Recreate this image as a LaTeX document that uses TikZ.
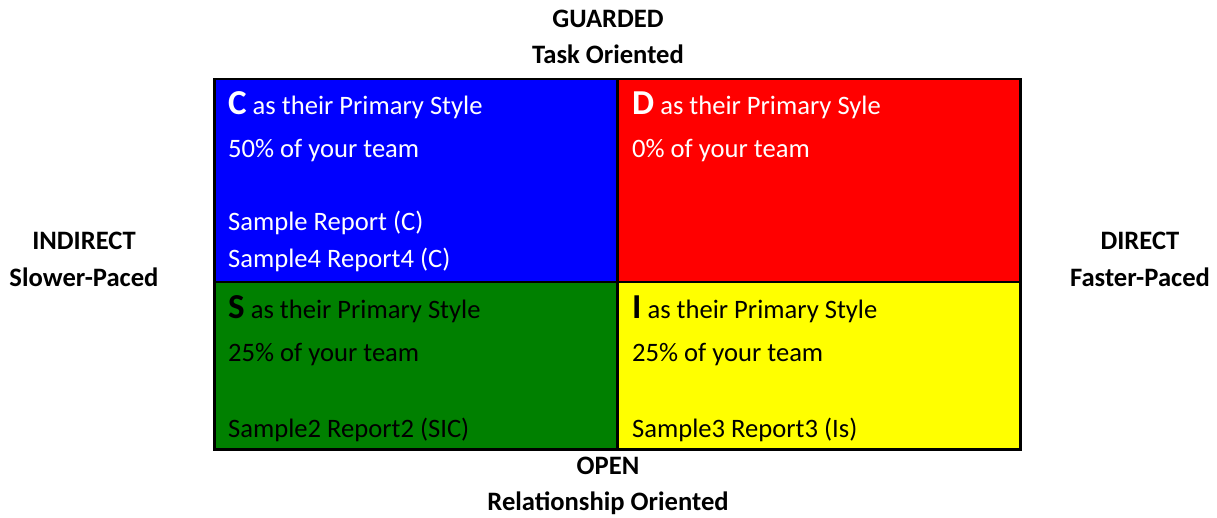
\documentclass[tikz,border=0pt]{standalone}
\usepackage{fontspec}
\setmainfont{Carlito}
\usepackage{xcolor}
\usepackage{tikz}
\usetikzlibrary{positioning}
\definecolor{cblue}{RGB}{0,0,255}
\definecolor{dred}{RGB}{255,0,0}
\definecolor{sgreen}{RGB}{0,128,0}
\definecolor{iyellow}{RGB}{255,255,0}
\tikzset{quad/.style = {rectangle, draw=black, line width=2.5pt, inner sep=0, anchor=north west, minimum width=403pt, minimum height=203pt}}
\tikzset{txt/.style = {draw=none, inner sep=0, anchor=base west, font=\fontsize{26.6}{31}\selectfont}}
\tikzset{axis/.style = {draw=none, inner sep=0, anchor=base, font=\fontsize{26.6}{31}\selectfont\bfseries}}
\newcommand{\styleletter}[1]{{\fontsize{35}{35}\selectfont\bfseries #1}}

\begin{document}
\begin{tikzpicture}[x=1pt, y=-1pt]
\useasboundingbox (0,0) rectangle (1217,518);
% quadrants
\node [quad, fill=cblue] (C) at (213, 78) {};
\node [quad, fill=dred] (D) at (616, 78) {};
\node [quad, fill=sgreen, minimum height=167pt] (S) at (213, 281) {};
\node [quad, fill=iyellow, minimum height=167pt] (I) at (616, 281) {};
% axis labels
\node [axis] (guarded) at (608, 28) {GUARDED};
\node [axis] (task) at (608, 64) {Task Oriented};
\node [axis] (open) at (608, 474) {OPEN};
\node [axis] (rel) at (608, 510) {Relationship Oriented};
\node [axis] (indirect) at (84, 250) {INDIRECT};
\node [axis] (slower) at (84, 287) {Slower-Paced};
\node [axis] (direct) at (1140, 250) {DIRECT};
\node [axis] (faster) at (1140, 287) {Faster-Paced};
% C
\node [txt, text=white] (Ctitle) at (228, 115) {\styleletter{C} as their Primary Style};
\node [txt, text=white] (Cpct) at (228, 158) {50\% of your team};
\node [txt, text=white] (Cone) at (228, 231) {Sample Report (C)};
\node [txt, text=white] (Ctwo) at (228, 268) {Sample4 Report4 (C)};
% D
\node [txt, text=white] (Dtitle) at (632, 115) {\styleletter{D} as their Primary Syle};
\node [txt, text=white] (Dpct) at (632, 158) {0\% of your team};
% S
\node [txt, text=black] (Stitle) at (228, 319) {\styleletter{S} as their Primary Style};
\node [txt, text=black] (Spct) at (228, 361) {25\% of your team};
\node [txt, text=black] (Sone) at (228, 437) {Sample2 Report2 (SIC)};
% I
\node [txt, text=black] (Ititle) at (632, 319) {\styleletter{I} as their Primary Style};
\node [txt, text=black] (Ipct) at (632, 361) {25\% of your team};
\node [txt, text=black] (Ione) at (632, 437) {Sample3 Report3 (Is)};
\end{tikzpicture}
\end{document}
